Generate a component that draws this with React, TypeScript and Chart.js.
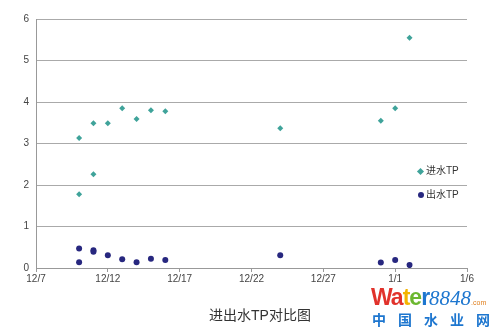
import React, { useEffect, useRef } from "react";
import { Chart, registerables } from "chart.js";

Chart.register(...registerables);

// Dates (month/day) relative to axis start 12/7
const influentDates = ["12/10", "12/10", "12/11", "12/11", "12/12", "12/13", "12/14", "12/15", "12/16", "12/24", "12/31", "1/1", "1/2"];
const influentTP = [3.13, 1.78, 3.49, 2.26, 3.49, 3.85, 3.59, 3.8, 3.78, 3.37, 3.55, 3.85, 5.55];

const effluentDates = ["12/10", "12/10", "12/11", "12/11", "12/12", "12/13", "12/14", "12/15", "12/16", "12/24", "12/31", "1/1", "1/2"];
const effluentTP = [0.47, 0.14, 0.43, 0.39, 0.31, 0.21, 0.14, 0.22, 0.19, 0.31, 0.13, 0.19, 0.07];

const xTickLabels = ["12/7", "12/12", "12/17", "12/22", "12/27", "1/1", "1/6"];
const seriesNames = ["进水TP", "出水TP"];
const chartTitle = "进出水TP对比图";

const dayOffset = (s: string) => {
  const [m, d] = s.split("/").map(Number);
  return m === 12 ? d - 7 : 31 - 7 + d;
};

export default function App() {
  const ref = useRef<HTMLCanvasElement>(null);
  useEffect(() => {
    if (!ref.current) return;
    const chart = new Chart(ref.current, {
      type: "scatter",
      data: {
        datasets: [
          {
            label: seriesNames[0],
            data: influentDates.map((d, i) => ({ x: dayOffset(d), y: influentTP[i] })),
            pointStyle: "rectRot",
            pointRadius: 3,
            backgroundColor: "#3fa39a",
            borderColor: "#3fa39a",
            borderWidth: 0,
          },
          {
            label: seriesNames[1],
            data: effluentDates.map((d, i) => ({ x: dayOffset(d), y: effluentTP[i] })),
            pointStyle: "circle",
            pointRadius: 3,
            backgroundColor: "#27277f",
            borderColor: "#27277f",
            borderWidth: 0,
          },
        ],
      },
      options: {
        animation: false,
        responsive: false,
        layout: { padding: { left: 0, top: 19, right: 33, bottom: 0 } },
        plugins: { legend: { display: false }, tooltip: { enabled: false } },
        scales: {
          x: {
            type: "linear",
            min: 0,
            max: 30,
            afterFit: (s: any) => { s.height = 68; },
            ticks: {
              stepSize: 5,
              color: "#444",
              font: { family: "Liberation Sans, Arial", size: 10 },
              padding: 1,
              maxRotation: 0,
              callback: (v: any) => xTickLabels[Math.round(Number(v) / 5)] ?? "",
            },
            grid: { drawOnChartArea: false, drawTicks: true, tickLength: 4, color: "#999" },
            border: { color: "#999", width: 1 },
          },
          y: {
            min: 0,
            max: 6,
            afterFit: (s: any) => { s.width = 36; },
            ticks: {
              stepSize: 1,
              color: "#444",
              font: { family: "Liberation Sans, Arial", size: 10 },
              padding: 7,
            },
            grid: { drawTicks: false, color: "#aaa", lineWidth: 1 },
            border: { color: "#999", width: 1 },
          },
        },
      },
    });
    return () => chart.destroy();
  }, []);

  const legendText: React.CSSProperties = {
    position: "absolute",
    fontFamily: "Liberation Sans, Arial, 'Noto Sans CJK SC'",
    fontSize: 10,
    color: "#333",
    lineHeight: "12px",
  };

  return (
    <div style={{ position: "fixed", left: 0, top: 0, width: 500, height: 336, background: "#fff" }}>
      <canvas ref={ref} width={500} height={336} style={{ position: "absolute", left: 0, top: 0 }} />
      <div style={{ ...legendText, left: 418, top: 165 }}>
        <span style={{ display: "inline-block", width: 5, height: 5, background: "#3fa39a", transform: "rotate(45deg)", marginRight: 3, verticalAlign: "middle" }} />
        {seriesNames[0]}
      </div>
      <div style={{ ...legendText, left: 418, top: 189 }}>
        <span style={{ display: "inline-block", width: 6, height: 6, borderRadius: 3, background: "#27277f", marginRight: 2, verticalAlign: "middle" }} />
        {seriesNames[1]}
      </div>
      <div
        style={{
          position: "absolute",
          left: 209,
          top: 306,
          fontFamily: "Liberation Sans, Arial, 'Noto Sans CJK SC'",
          fontSize: 14,
          color: "#333",
          lineHeight: "18px",
          whiteSpace: "nowrap",
        }}
      >
        {chartTitle}
      </div>
      <div style={{ position: "absolute", left: 371, top: 285, whiteSpace: "nowrap", lineHeight: "24px" }}>
        <span style={{ fontFamily: "Liberation Sans, Arial", fontWeight: "bold", fontSize: 23, letterSpacing: -1 }}>
          <span style={{ color: "#e1322b" }}>Wa</span>
          <span style={{ color: "#f4b400" }}>t</span>
          <span style={{ color: "#6bb72f" }}>e</span>
          <span style={{ color: "#1d76cf" }}>r</span>
        </span>
        <span style={{ fontFamily: "Liberation Serif, serif", fontStyle: "italic", fontSize: 21, color: "#1d76cf" }}>8848</span>
        <span style={{ fontFamily: "Liberation Sans, Arial", fontSize: 7, color: "#e08020" }}>.com</span>
      </div>
      <div
        style={{
          position: "absolute",
          left: 372,
          top: 311,
          whiteSpace: "nowrap",
          fontFamily: "'Noto Sans CJK SC'",
          fontWeight: "bold",
          fontSize: 14,
          letterSpacing: 12,
          color: "#1d76cf",
          lineHeight: "16px",
        }}
      >
        中国水业网
      </div>
    </div>
  );
}
